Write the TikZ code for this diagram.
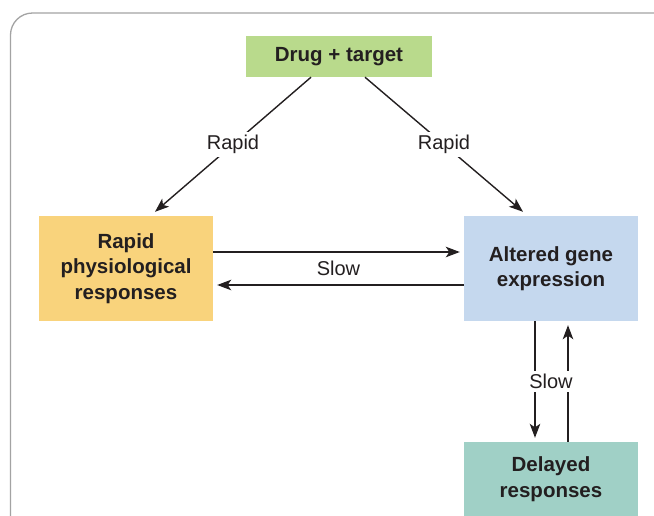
\documentclass[tikz,border=0pt]{standalone}
\usepackage{fontspec}
\setmainfont{Liberation Sans}
\usetikzlibrary{arrows.meta}

\definecolor{drugcol}{HTML}{B9DA8C}
\definecolor{rapidcol}{HTML}{F9D37C}
\definecolor{genecol}{HTML}{C5D8EE}
\definecolor{delaycol}{HTML}{A0D0C6}
\definecolor{inkcol}{HTML}{231F20}
\definecolor{framecol}{HTML}{A3A3A3}

\tikzset{
	box/.style={fill=#1, text=inkcol, align=center, minimum width=174pt, inner sep=0pt,
		font=\fontsize{20.5}{25.5}\selectfont\bfseries},
	arr/.style={-{Stealth[length=14pt,width=10.5pt,inset=3.5pt]}, line width=1.4pt, draw=inkcol},
	lbl/.style={fill=white, text=inkcol, inner sep=3pt, font=\fontsize{20}{24}\selectfont}
}

\begin{document}
\begin{tikzpicture}[x=1pt,y=-1pt]
	\useasboundingbox (0,0) rectangle (654,515);
	\clip (0,0) rectangle (654,515);
	\draw[framecol, line width=1.3pt, rounded corners=22pt] (10.5,13) rectangle (680,560);

	\node[box=drugcol, minimum width=186pt, minimum height=41pt] (drug) at (339,56.5) {Drug + target};
	\node[box=rapidcol, minimum height=105pt] (rapid) at (126,268.5) {Rapid\\physiological\\responses};
	\node[box=genecol, minimum height=105pt] (gene) at (551,268.5) {Altered gene\\expression};
	\node[box=delaycol, minimum height=74pt] (delayed) at (551,479) {Delayed\\responses};

	\draw[arr] ([xshift=-28pt]drug.south) -- ([xshift=29pt,yshift=4pt]rapid.north) node[midway,lbl] {Rapid};
	\draw[arr] ([xshift=26pt]drug.south) -- ([xshift=-28pt,yshift=4pt]gene.north) node[midway,lbl] {Rapid};

	\draw[arr] ([yshift=16.5pt]rapid.east) -- ([yshift=16.5pt,xshift=-4pt]gene.west);
	\draw[arr] ([yshift=-16.5pt]gene.west) -- ([yshift=-16.5pt,xshift=4pt]rapid.east);
	\path (rapid) -- (gene) node[midway,lbl,fill=none] {Slow};

	\draw[arr] ([xshift=-16pt]gene.south) -- ([xshift=-16pt,yshift=4pt]delayed.north);
	\draw[arr] ([xshift=17pt]delayed.north) -- ([xshift=17pt,yshift=-4pt]gene.south);
	\path (gene.south) -- (delayed.north) node[midway,lbl] {Slow};
\end{tikzpicture}
\end{document}
